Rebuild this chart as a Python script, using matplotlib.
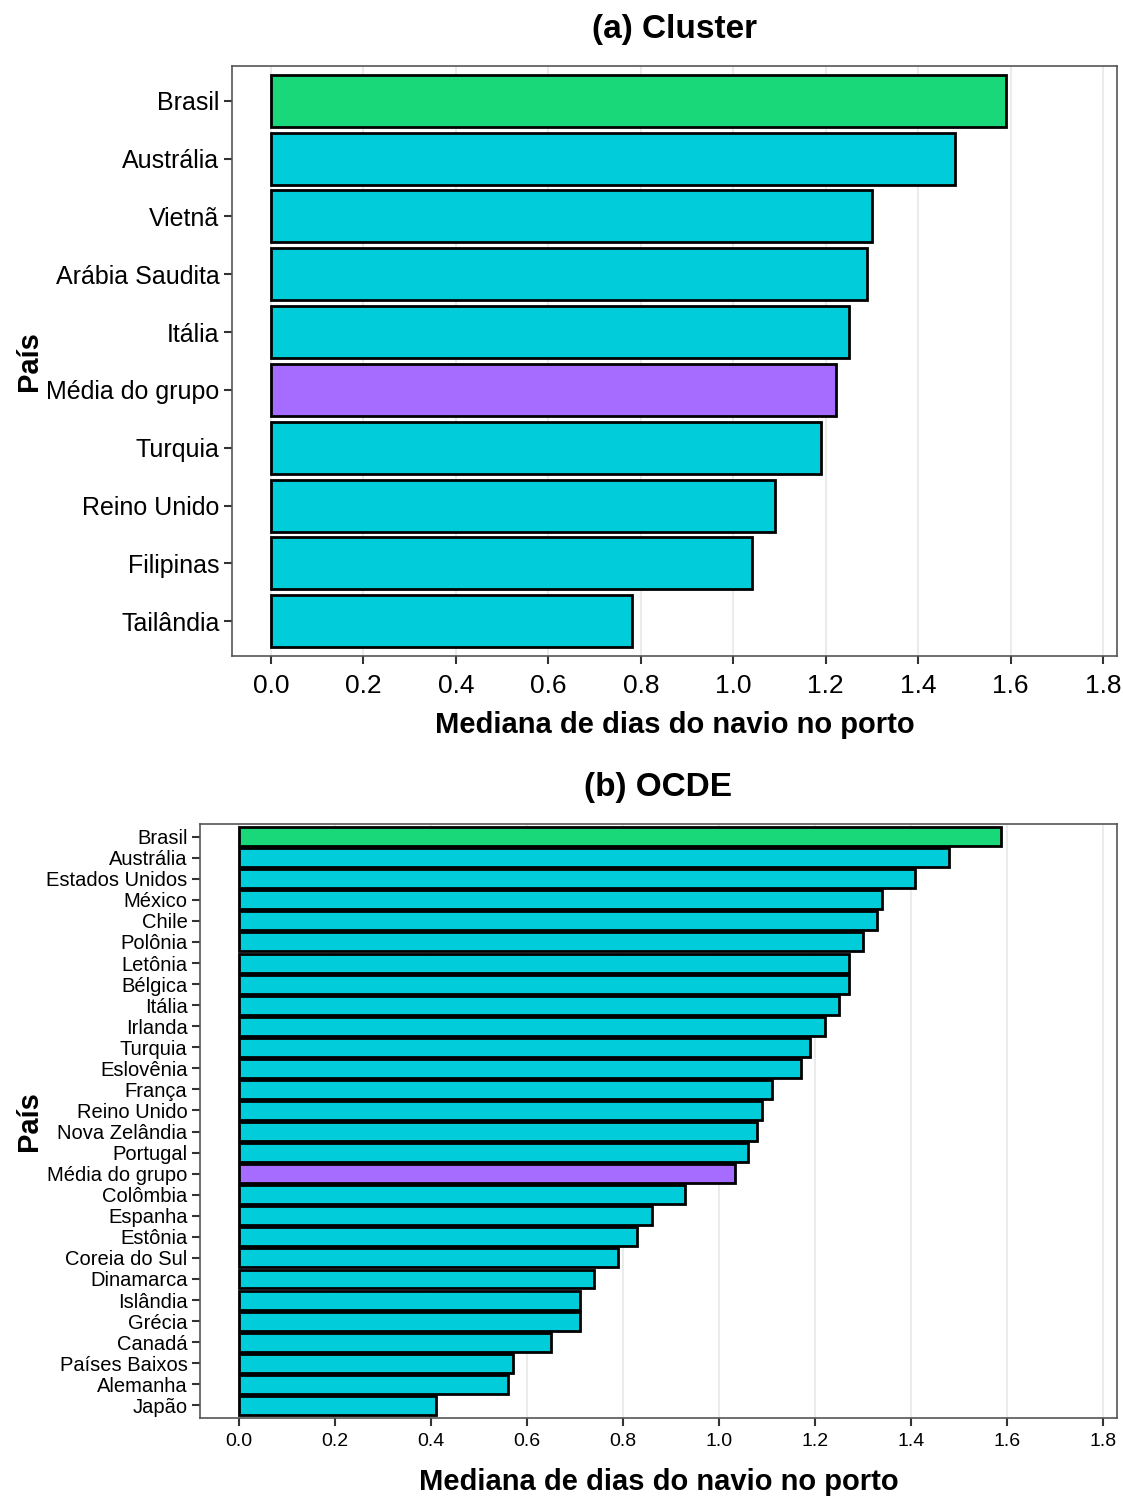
import matplotlib
matplotlib.use("Agg")
import matplotlib.pyplot as plt
from matplotlib import font_manager as fm

names = {f.name for f in fm.fontManager.ttflist}
family = "Liberation Sans Narrow" if "Liberation Sans Narrow" in names else "Liberation Sans"
plt.rcParams['font.family'] = [family, 'DejaVu Sans']

# Panel (a) data
cluster_countries = ["Brasil", "Austrália", "Vietnã", "Arábia Saudita", "Itália",
                     "Média do grupo", "Turquia", "Reino Unido", "Filipinas", "Tailândia"]
cluster_values = [1.59, 1.48, 1.30, 1.29, 1.25, 1.222, 1.19, 1.09, 1.04, 0.78]

# Panel (b) data
ocde_countries = ["Brasil", "Austrália", "Estados Unidos", "México", "Chile", "Polônia",
                  "Letônia", "Bélgica", "Itália", "Irlanda", "Turquia", "Eslovênia",
                  "França", "Reino Unido", "Nova Zelândia", "Portugal", "Média do grupo",
                  "Colômbia", "Espanha", "Estônia", "Coreia do Sul", "Dinamarca",
                  "Islândia", "Grécia", "Canadá", "Países Baixos", "Alemanha", "Japão"]
ocde_values = [1.587, 1.479, 1.408, 1.34, 1.33, 1.30, 1.27, 1.27, 1.25, 1.22, 1.19,
               1.17, 1.11, 1.09, 1.08, 1.06, 1.033, 0.93, 0.86, 0.83, 0.79, 0.74,
               0.71, 0.71, 0.65, 0.57, 0.56, 0.41]

xticks = [0.0, 0.2, 0.4, 0.6, 0.8, 1.0, 1.2, 1.4, 1.6, 1.8]

GREEN = "#19D87A"
CYAN = "#00CDD9"
PURPLE = "#A66BFF"

def color_for(name):
    if name == "Brasil":
        return GREEN
    if name == "Média do grupo":
        return PURPLE
    return CYAN

W, H = 1123, 1497
fig = plt.figure(figsize=(W / 100, H / 100), dpi=100)

def make_axes(left, right, top, bottom):
    return fig.add_axes([left / W, 1 - bottom / H, (right - left) / W, (bottom - top) / H])

def draw(ax, cats, vals, title, xlim, ytick_size, xtick_size, lw, xpad, xlabelpad, tpad):
    n = len(cats)
    ypos = list(range(n))
    ax.barh(ypos, vals, height=0.9, color=[color_for(c) for c in cats],
            edgecolor="black", linewidth=lw, zorder=3)
    ax.set_ylim(n - 1 + 0.6, -0.6)
    ax.set_xlim(*xlim)
    ax.set_yticks(ypos)
    ax.set_yticklabels(cats, fontsize=ytick_size)
    ax.set_xticks(xticks)
    ax.set_xticklabels([f"{t:.1f}" for t in xticks], fontsize=xtick_size)
    ax.grid(axis="x", color="#EBEBEB", linewidth=1.5, zorder=0)
    ax.grid(axis="y", visible=False)
    for s in ax.spines.values():
        s.set_color("#555555")
        s.set_linewidth(1.2)
    ax.tick_params(axis="both", color="#333333", width=1.5, length=6, pad=3)
    ax.tick_params(axis="x", pad=xpad)
    ax.set_xlabel("Mediana de dias do navio no porto", fontsize=21, fontweight="bold",
                  labelpad=xlabelpad)
    ax.set_title(title, fontsize=24, fontweight="bold", pad=tpad)
    ax.set_ylabel("País", fontsize=21, fontweight="bold", labelpad=2)

ax1 = make_axes(232, 1117, 66, 656)
draw(ax1, cluster_countries, cluster_values, "(a) Cluster",
     (-0.0844, 1.830), 18, 19, 2.0, 7, 9, 20)

ax2 = make_axes(200, 1117, 824, 1418)
draw(ax2, ocde_countries, ocde_values, "(b) OCDE",
     (-0.081, 1.829), 14.5, 14, 2.0, 5, 13, 20)

fig.savefig("out.png", dpi=100)
